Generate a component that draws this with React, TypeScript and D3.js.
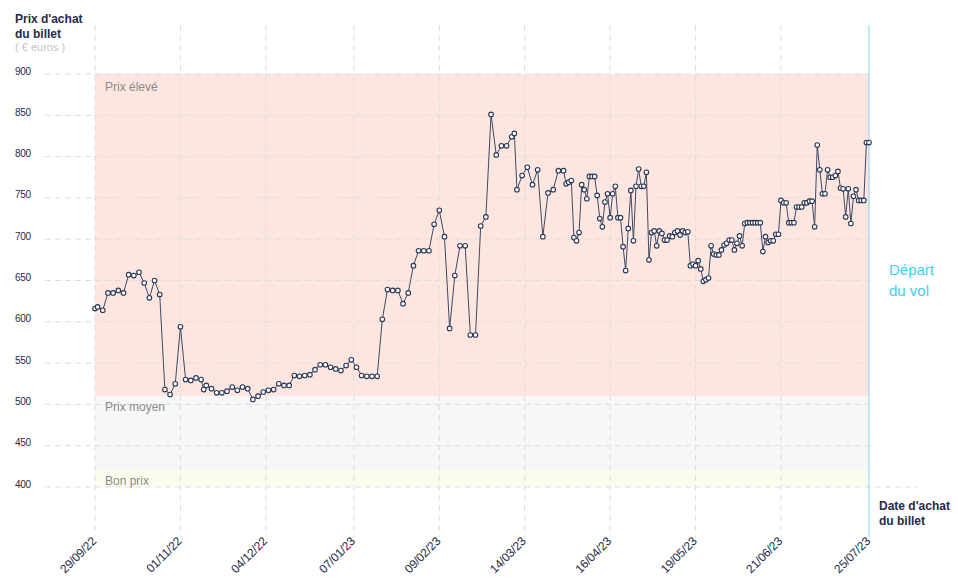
import React from "react";
import * as d3 from "d3";

const START_DATE = "2022-09-29";
const END_DATE = "2023-07-25";

// purchase day, as days after the first purchase date
const purchaseDays = [
  0, 1, 3, 5, 7, 9, 11, 13, 15, 17, 19, 21, 23, 25, 27, 29, 31, 33, 35, 37, 39, 41, 42, 43, 45, 47, 49,
  51, 53, 55, 57, 59, 61, 63, 65, 67, 69, 71, 73, 75, 77, 79, 81, 83, 85, 87, 89, 91, 93, 95, 97, 99,
  101, 103, 105, 107, 109, 111, 113, 115, 117, 119, 121, 123, 125, 127, 129, 131, 133, 135, 137, 139,
  141, 143, 145, 147, 149, 151, 153, 155, 157, 159, 161, 162, 163, 165, 167, 169, 171, 173, 175, 177,
  179, 181,
  182, 183, 184, 185, 186, 187, 188, 189, 190, 191, 192, 193, 194, 195, 196, 197, 198, 199, 200, 201,
  202, 203, 204, 205, 206, 207, 208, 209, 210, 211, 212, 213, 214, 215, 216, 217, 218, 219, 220, 221,
  222, 223, 224, 225, 226, 227, 228, 229, 230, 231, 232, 233, 234, 235, 236, 237, 238, 239, 240, 241,
  242, 243, 244, 245, 246, 247, 248, 249, 250, 251, 252, 253, 254, 255, 256, 257, 258, 259, 260, 261,
  262, 263, 264, 265, 266, 267, 268, 269, 270, 271, 272, 273, 274, 275, 276, 277, 278, 279, 280, 281,
  282, 283, 284, 285, 286, 287, 288, 289, 290, 291, 292, 293, 294, 295, 296, 297, 298, 299,
];

const prices = [
  616, 618, 614, 635, 635, 638, 635, 657, 656, 660, 647, 629, 650, 633, 518, 512, 525, 594, 530, 529, 532, 530, 518, 523, 519, 514, 514,
  516, 521, 517, 521, 519, 506, 510, 515, 517, 518, 525, 523, 523, 535, 534, 535, 536, 542, 548, 548, 545, 543, 541, 547, 554,
  545, 535, 534, 534, 534, 603, 639, 638, 638, 622, 635, 668, 686, 686, 686, 718, 735, 703, 592, 656,
  692, 692, 584, 584, 716, 727, 851, 802, 813, 813, 824, 828, 760, 777, 787, 766, 784, 703, 756, 760,
  783, 783,
  767, 769, 771, 702, 698, 708, 766, 760, 749, 776, 776, 776, 753, 725, 715, 745, 755, 726, 755, 764,
  726, 726, 691, 662, 713, 759, 698, 764, 785, 764, 764, 781, 675, 708, 710, 692, 710, 707, 699, 699,
  704, 703, 708, 710, 705, 710, 708, 709, 668, 670, 668, 674, 664, 649, 651, 653, 692, 682, 681, 681,
  687, 693, 695, 699, 699, 687, 695, 704, 692, 719, 720, 720, 720, 720, 720, 720, 685, 703, 696, 698,
  698, 706, 706, 747, 744, 744, 720, 720, 720, 739, 739, 739, 744, 744, 746, 746, 715, 814, 784, 755,
  755, 784, 775, 775, 777, 782, 762, 761, 727, 761, 719, 752, 760, 747, 747, 747, 817, 817,
];

const yTicks = [400, 450, 500, 550, 600, 650, 700, 750, 800, 850, 900];

const xTickDates = [
  "2022-09-29", "2022-11-01", "2022-12-04", "2023-01-07", "2023-02-09",
  "2023-03-14", "2023-04-16", "2023-05-19", "2023-06-21", "2023-07-25",
];
const xTickLabels = [
  "29/09/22", "01/11/22", "04/12/22", "07/01/23", "09/02/23",
  "14/03/23", "16/04/23", "19/05/23", "21/06/23", "25/07/23",
];

const bandNames = ["Prix élevé", "Prix moyen", "Bon prix"];
const bandLow = [510, 420, 400];
const bandHigh = [900, 510, 420];
const bandColors = ["#fde6e0", "#f7f7f7", "#fbfcee"];

const NAVY = "#1f2b48";
const GRID = "#dedede";
const CYAN = "#44cdef";

export default function App() {
  const parse = d3.utcParse("%Y-%m-%d");
  const start = parse(START_DATE)!;
  const end = parse(END_DATE)!;
  const x = d3.scaleUtc().domain([start, end]).range([95, 869]);
  const y = d3.scaleLinear().domain([400, 900]).range([487, 74]);

  const data = purchaseDays.map((d, i) => ({ date: d3.utcDay.offset(start, d), price: prices[i] }));
  const line = d3
    .line<{ date: Date; price: number }>()
    .x((d) => x(d.date))
    .y((d) => y(d.price));

  const font = "'Liberation Sans', Arial, sans-serif";
  const tickX = xTickDates.map((s) => x(parse(s)!));
  const lastX = x(end);

  return (
    <div style={{ position: "fixed", left: 0, top: 0 }}>
      <svg width={958} height={585} style={{ display: "block", fontFamily: font }}>
        <rect width={958} height={585} fill="#fff" />
        {bandNames.map((n, i) => (
          <rect
            key={n}
            x={x(start)}
            width={lastX - x(start)}
            y={y(bandHigh[i])}
            height={y(bandLow[i]) - y(bandHigh[i])}
            fill={bandColors[i]}
          />
        ))}
        {yTicks.map((t) => (
          <line
            key={t}
            x1={45}
            x2={t === 400 ? 918 : lastX}
            y1={y(t)}
            y2={y(t)}
            stroke={GRID}
            strokeWidth={1}
            strokeDasharray="6,4"
          />
        ))}
        {tickX.slice(0, -1).map((tx, i) => (
          <line key={i} x1={tx} x2={tx} y1={25} y2={537} stroke={GRID} strokeWidth={1} strokeDasharray="6,4" />
        ))}
        <line x1={lastX} x2={lastX} y1={25} y2={537} stroke="#7fcde6" strokeWidth={0.9} />
        {bandNames.map((n, i) => (
          <text key={n} x={105} y={y(bandHigh[i]) + (i === 0 ? 17 : 14.5)} fontSize={12} fill="#8a8a8a">
            {n}
          </text>
        ))}
        {yTicks.map((t) => (
          <text key={t} x={15} y={y(t) + 0.5} fontSize={10} fill={NAVY} letterSpacing={-0.3}>
            {t}
          </text>
        ))}
        {xTickLabels.map((l, i) => (
          <text
            key={l}
            transform={`translate(${tickX[i] + 2},${542}) rotate(-45)`}
            textAnchor="end"
            fontSize={12}
            fill={NAVY}
            letterSpacing={-0.2}
          >
            {l}
          </text>
        ))}
        <text x={15} y={22.7} fontSize={12} fontWeight="bold" fill={NAVY}>
          Prix d'achat
        </text>
        <text x={15} y={37.5} fontSize={12} fontWeight="bold" fill={NAVY}>
          du billet
        </text>
        <text x={15} y={50.7} fontSize={11} fill="#c4c4c4">
          ( € euros )
        </text>
        <text x={879} y={510} fontSize={12} fontWeight="bold" fill={NAVY}>
          Date d'achat
        </text>
        <text x={879} y={524.5} fontSize={12} fontWeight="bold" fill={NAVY}>
          du billet
        </text>
        <text x={889} y={275} fontSize={15} fill={CYAN}>
          Départ
        </text>
        <text x={889} y={295.5} fontSize={15} fill={CYAN}>
          du vol
        </text>
        <path d={line(data) ?? ""} fill="none" stroke="#3e4965" strokeWidth={1} />
        {data.map((d, i) => (
          <circle
            key={i}
            cx={x(d.date)}
            cy={y(d.price)}
            r={2.3}
            fill="#fff"
            stroke="#2c3854"
            strokeWidth={1.1}
          />
        ))}
      </svg>
    </div>
  );
}
